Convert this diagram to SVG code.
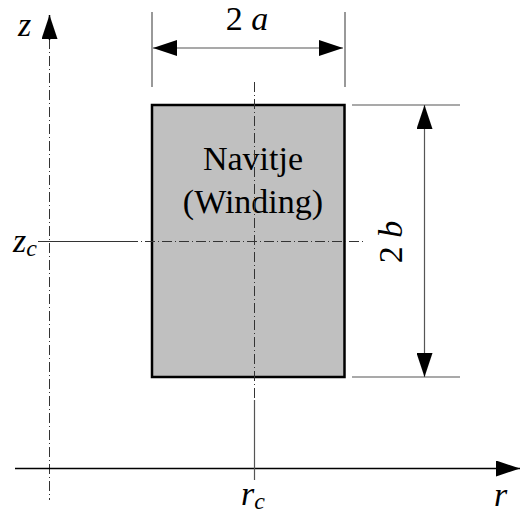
<svg xmlns="http://www.w3.org/2000/svg" width="521" height="513" viewBox="0 0 521 513">
<style>
.axis{stroke:#000;stroke-width:1.5;fill:none}
.center{stroke:#333;stroke-width:1;fill:none;stroke-dasharray:10 3 1 3}
.dim{stroke:#555;stroke-width:1.2;fill:none}
.i{font-style:italic}
</style>
<defs>
<marker id="ah" viewBox="0 0 24 16" refX="24" refY="8" markerWidth="24" markerHeight="16" markerUnits="userSpaceOnUse" orient="auto-start-reverse">
<path d="M0,0 L24,8 L0,16 Z" fill="#000"/>
</marker>
</defs>
<rect width="521" height="513" fill="#fff"/>
<g id="winding" font-family="Liberation Serif, Times New Roman, serif" font-size="34">
<rect x="152" y="105" width="192.5" height="272" fill="#c0c0c0" stroke="#000" stroke-width="2.5"/>
<text x="253" y="170" text-anchor="middle">Navitje</text>
<text x="253" y="213" text-anchor="middle">(Winding)</text>
</g>
<g id="connectors">
<line class="center" x1="49.5" y1="39" x2="49.5" y2="500"/>
<line class="axis" x1="49.5" y1="40" x2="49.5" y2="15" marker-end="url(#ah)"/>
<line class="axis" x1="15" y1="468.5" x2="520" y2="468.5" marker-end="url(#ah)"/>
<line class="center" x1="254.5" y1="82" x2="254.5" y2="400"/>
<line x1="254.5" y1="400" x2="254.5" y2="480" stroke="#555" stroke-width="1.2"/>
<line x1="38" y1="241.5" x2="128" y2="241.5" stroke="#333" stroke-width="1"/>
<line class="center" x1="128" y1="241.5" x2="366" y2="241.5"/>
<line class="dim" x1="152" y1="12" x2="152" y2="87"/>
<line class="dim" x1="345" y1="12" x2="345" y2="87"/>
<line class="dim" x1="153" y1="48" x2="343" y2="48" marker-start="url(#ah)" marker-end="url(#ah)"/>
<line class="dim" x1="352" y1="105" x2="460" y2="105"/>
<line class="dim" x1="352" y1="377" x2="460" y2="377"/>
<line class="dim" x1="424.5" y1="105" x2="424.5" y2="377" marker-start="url(#ah)" marker-end="url(#ah)"/>
</g>
<g id="labels" font-family="Liberation Serif, Times New Roman, serif" font-size="34">
<text x="247" y="30" text-anchor="middle">2 <tspan class="i">a</tspan></text>
<text transform="translate(402,242) rotate(-90)" text-anchor="middle">2 <tspan class="i">b</tspan></text>
<text class="i" x="18" y="36">z</text>
<text class="i" x="13" y="252">z<tspan font-size="24" dy="4">c</tspan></text>
<text class="i" x="241" y="505">r<tspan font-size="24" dy="4">c</tspan></text>
<text class="i" x="494" y="506">r</text>
</g>
</svg>
